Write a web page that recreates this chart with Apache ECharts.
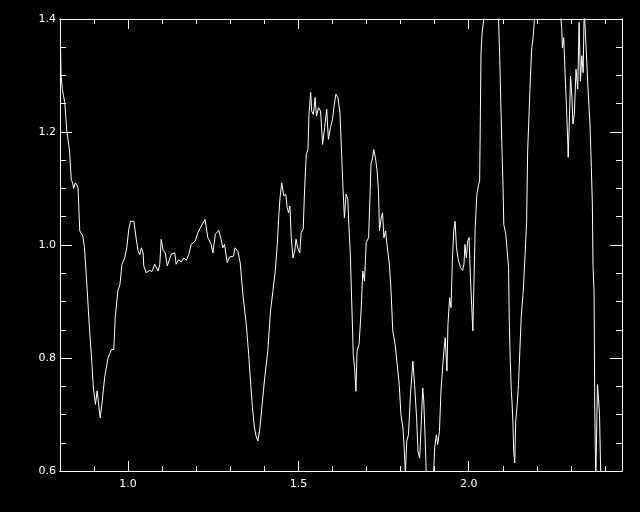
<!DOCTYPE html>
<html>
<head>
<meta charset="utf-8">
<script src="https://cdn.jsdelivr.net/npm/echarts@6/dist/echarts.min.js"></script>
<style>
html,body{margin:0;padding:0;background:#000;}
#chart{width:640px;height:512px;}
</style>
</head>
<body>
<div id="chart"></div>
<script>
// wavelength (x) and relative flux (y)
const wavelength = [
0.8015,0.803,0.807,0.810,0.814,0.820,0.828,0.833,0.837,0.840,0.845,0.850,0.853,0.858,0.867,0.872,0.880,0.887,0.892,0.898,
0.904,0.909,0.914,0.918,0.924,0.931,0.941,0.951,0.958,0.962,0.970,0.976,0.982,0.990,0.996,1.002,1.007,1.017,1.024,1.029,
1.034,1.039,1.044,1.046,1.053,1.058,1.063,1.070,1.078,1.083,1.088,1.093,1.097,1.103,1.109,1.115,1.120,1.127,1.137,1.141,
1.148,1.156,1.164,1.171,1.178,1.185,1.190,1.197,1.205,1.215,1.226,1.234,1.244,1.249,1.256,1.266,1.273,1.278,1.283,1.291,
1.298,1.303,1.309,1.314,1.322,1.329,1.337,1.347,1.354,1.360,1.365,1.371,1.376,1.381,1.387,1.393,1.401,1.410,1.418,1.425,
1.432,1.438,1.442,1.446,1.451,1.457,1.463,1.467,1.471,1.475,1.479,1.484,1.489,1.493,1.498,1.504,1.508,1.514,1.518,1.523,
1.528,1.531,1.536,1.539,1.544,1.549,1.553,1.559,1.565,1.571,1.577,1.583,1.588,1.594,1.600,1.604,1.610,1.616,1.622,1.627,
1.630,1.635,1.640,1.645,1.648,1.652,1.657,1.661,1.665,1.669,1.672,1.678,1.684,1.689,1.694,1.699,1.706,1.710,1.713,1.718,
1.721,1.726,1.731,1.735,1.738,1.743,1.747,1.751,1.756,1.760,1.767,1.772,1.777,1.784,1.790,1.796,1.801,1.807,1.811,1.814,
1.818,1.823,1.829,1.836,1.841,1.847,1.851,1.856,1.860,1.865,1.868,1.872,1.875,1.886,1.897,1.900,1.905,1.909,1.914,1.919,
1.927,1.931,1.936,1.939,1.944,1.948,1.952,1.956,1.960,1.964,1.970,1.976,1.982,1.986,1.989,1.993,1.997,2.001,2.005,2.009,
2.012,2.015,2.019,2.024,2.029,2.032,2.034,2.036,2.039,2.044,2.056,2.068,2.079,2.087,2.091,2.095,2.097,2.101,2.103,2.109,
2.113,2.117,2.119,2.122,2.125,2.127,2.130,2.132,2.135,2.138,2.142,2.146,2.150,2.154,2.160,2.165,2.170,2.173,2.176,2.181,
2.185,2.189,2.193,2.208,2.238,2.261,2.273,2.275,2.279,2.283,2.287,2.291,2.292,2.296,2.299,2.303,2.306,2.310,2.315,2.320,
2.324,2.328,2.332,2.336,2.339,2.342,2.345,2.350,2.356,2.360,2.363,2.365,2.368,2.370,2.373,2.376,2.378,2.381,2.384,2.388
];
const flux = [
1.355,1.300,1.275,1.265,1.252,1.202,1.167,1.116,1.110,1.100,1.110,1.106,1.101,1.025,1.016,0.995,0.919,0.848,0.806,0.747,
0.718,0.742,0.715,0.694,0.724,0.765,0.800,0.815,0.815,0.871,0.919,0.930,0.966,0.977,0.995,1.028,1.042,1.042,1.010,0.990,
0.983,0.995,0.986,0.963,0.951,0.948,0.955,0.953,0.966,0.969,0.954,0.966,1.010,0.990,0.986,0.963,0.963,0.984,0.986,0.966,
0.974,0.970,0.977,0.973,0.983,1.001,0.998,1.007,1.022,1.034,1.045,1.013,1.001,0.986,1.019,1.026,1.010,0.995,1.001,0.969,
0.979,0.982,0.980,0.995,0.989,0.969,0.912,0.859,0.806,0.753,0.712,0.676,0.661,0.653,0.676,0.715,0.765,0.812,0.883,0.918,
0.954,1.001,1.048,1.084,1.110,1.087,1.090,1.066,1.057,1.069,1.013,0.977,0.989,1.010,0.995,0.986,1.022,1.028,1.096,1.160,
1.169,1.231,1.270,1.237,1.231,1.261,1.228,1.243,1.237,1.178,1.208,1.240,1.187,1.208,1.222,1.243,1.267,1.261,1.234,1.160,
1.113,1.048,1.090,1.081,1.036,0.989,0.889,0.806,0.783,0.741,0.812,0.824,0.883,0.954,0.936,1.004,1.013,1.084,1.143,1.155,
1.169,1.155,1.131,1.096,1.025,1.048,1.057,1.013,1.025,1.001,0.966,0.918,0.848,0.824,0.788,0.753,0.700,0.676,0.635,0.595,
0.653,0.664,0.735,0.794,0.753,0.694,0.635,0.623,0.676,0.747,0.724,0.659,0.600,0.560,0.600,0.641,0.664,0.647,0.670,0.747,
0.812,0.836,0.777,0.859,0.907,0.889,0.972,1.025,1.042,0.995,0.972,0.960,0.955,0.966,1.001,0.977,1.007,1.013,0.942,0.889,
0.848,0.924,1.031,1.090,1.107,1.113,1.220,1.338,1.373,1.400,1.460,1.500,1.470,1.410,1.332,1.231,1.184,1.096,1.036,1.019,
0.989,0.960,0.865,0.794,0.741,0.724,0.682,0.635,0.614,0.688,0.715,0.753,0.812,0.871,0.918,0.977,1.042,1.166,1.214,1.296,
1.349,1.367,1.400,1.480,1.520,1.460,1.385,1.349,1.367,1.302,1.245,1.178,1.155,1.231,1.299,1.261,1.214,1.231,1.311,1.276,
1.394,1.290,1.335,1.305,1.420,1.420,1.344,1.279,1.214,1.137,1.072,0.960,0.918,0.712,0.580,0.580,0.753,0.729,0.700,0.580
];
const xMajorTicks = [1.0, 1.5, 2.0];
const xMinorTicks = [0.9, 1.1, 1.2, 1.3, 1.4, 1.6, 1.7, 1.8, 1.9, 2.1, 2.2, 2.3, 2.4];
const yMajorTicks = [0.6, 0.8, 1.0, 1.2, 1.4];
const yMinorTicks = [0.65, 0.7, 0.75, 0.85, 0.9, 0.95, 1.05, 1.1, 1.15, 1.25, 1.3, 1.35];
const xRange = [0.8, 2.45];
const yRange = [0.6, 1.4];

const seriesData = wavelength.map((w, i) => [w, flux[i]]);
const white = '#ffffff';
const font = { color: white, fontSize: 11, fontFamily: 'DejaVu Sans' };

function xAx(position, ticks, len, labels) {
  return {
    type: 'value', min: xRange[0], max: xRange[1], position: position,
    axisLine: { show: true, onZero: false, lineStyle: { color: white, width: 1 } },
    axisTick: { show: true, inside: true, length: len, customValues: ticks, lineStyle: { color: white, width: 1 } },
    axisLabel: labels ? Object.assign({ show: true, customValues: ticks, margin: 8, formatter: v => v.toFixed(1) }, font) : { show: false },
    splitLine: { show: false }
  };
}
function yAx(position, ticks, len, labels) {
  return {
    type: 'value', min: yRange[0], max: yRange[1], position: position,
    axisLine: { show: true, onZero: false, lineStyle: { color: white, width: 1 } },
    axisTick: { show: true, inside: true, length: len, customValues: ticks, lineStyle: { color: white, width: 1 } },
    axisLabel: labels ? Object.assign({ show: true, customValues: ticks, margin: 4, formatter: v => v.toFixed(1) }, font) : { show: false },
    splitLine: { show: false }
  };
}

const chart = echarts.init(document.getElementById('chart'), null, { renderer: 'canvas' });
chart.setOption({
  backgroundColor: '#000000',
  animation: false,
  grid: { left: 60, right: 18, top: 19, bottom: 41, containLabel: false },
  xAxis: [
    xAx('bottom', xMajorTicks, 10, true),
    xAx('bottom', xMinorTicks, 5, false),
    xAx('top', xMajorTicks, 10, false),
    xAx('top', xMinorTicks, 5, false)
  ],
  yAxis: [
    yAx('left', yMajorTicks, 12, true),
    yAx('left', yMinorTicks, 6, false),
    yAx('right', yMajorTicks, 12, false),
    yAx('right', yMinorTicks, 6, false)
  ],
  series: [{
    type: 'line',
    xAxisIndex: 0, yAxisIndex: 0,
    data: seriesData,
    showSymbol: false,
    symbol: 'none',
    clip: true,
    lineStyle: { color: white, width: 1 },
    emphasis: { disabled: true }
  }]
});
</script>
</body>
</html>
